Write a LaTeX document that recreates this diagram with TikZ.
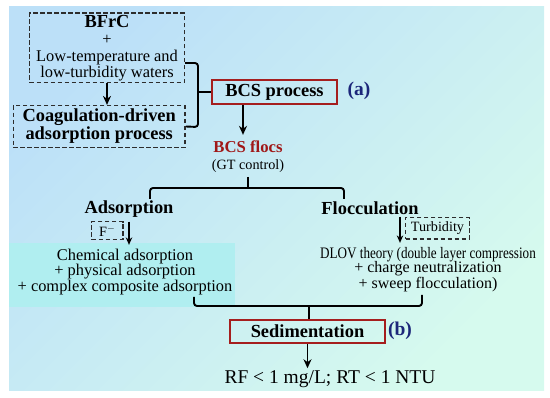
\documentclass[tikz,border=0pt]{standalone}
\usepackage{fontspec}
\setmainfont{Liberation Serif}
\usetikzlibrary{arrows.meta}
\definecolor{boxred}{RGB}{165,30,30}
\definecolor{flocred}{RGB}{160,24,24}
\definecolor{labblue}{RGB}{28,38,122}
\definecolor{bgtl}{RGB}{188,224,248}
\definecolor{bgbr}{RGB}{214,250,238}
\definecolor{adsbg}{RGB}{176,238,240}
\definecolor{dashgray}{RGB}{45,45,45}

\begin{document}
\begin{tikzpicture}[x=1pt,y=-1pt,
  dbox/.style={draw=dashgray,line width=1.5pt,dash pattern=on 4.5pt off 2.5pt,inner sep=0pt},
  redbox/.style={draw=boxred,line width=2.2pt,inner sep=0pt},
  txt/.style={font=\fontsize{16.4}{17}\selectfont,align=center,inner sep=0pt},
  bld/.style={font=\bfseries\fontsize{18.4}{18}\selectfont,align=center,inner sep=0pt},
  note/.style={font=\fontsize{14.2}{15}\selectfont,inner sep=0pt},
  lab/.style={font=\bfseries\fontsize{19.5}{20}\selectfont,text=labblue,inner sep=0pt},
  arr/.style={-{Stealth[length=9pt,width=8pt]},line width=1.9pt},
  sarr/.style={-{Stealth[length=7.5pt,width=6.5pt]},line width=1.5pt},
  brace/.style={line width=1.9pt,rounded corners=3pt}]

\useasboundingbox (0,0) rectangle (550,398);

%background
\shade[top color=bgtl,bottom color=bgbr,shading angle=45] (9,7) rectangle (544,391);
\fill[adsbg] (9,243) rectangle (235,307);

%inputs
\node[dbox,txt,minimum width=154.7,minimum height=69.5] (src) at (107,48)
  {{\bfseries\fontsize{18.4}{18}\selectfont BFrC}\\+\\Low-temperature and\\[-1pt]low-turbidity waters};
\node[dbox,bld,minimum width=171.7,minimum height=41.7] (cdap) at (99.2,126.5)
  {Coagulation-driven\\adsorption process};

%BCS process
\node[redbox,bld,minimum width=125,minimum height=24] (bcs) at (274.5,92) {BCS process};
\node[lab] (laba) at (359,91) {(a)};
\node[bld,font=\bfseries\fontsize{16.7}{17}\selectfont,text=flocred] (flocs) at (248,147) {BCS flocs};
\node[note] (gt) at (248,166) {(GT control)};

%two routes
\node[bld] (ads) at (129,209) {Adsorption};
\node[dbox,note,minimum width=31.3,minimum height=18] (fion) at (107.3,230.7) {F\textsuperscript{$-$}};
\node[txt,font=\fontsize{16.4}{15.5}\selectfont] (chem) at (125,272)
  {Chemical adsorption\\+ physical adsorption\\+ complex composite adsorption};
\node[bld] (floc) at (370,208) {Flocculation};
\node[dbox,note,minimum width=63.7,minimum height=21.3] (turb) at (437.5,228.3) {Turbidity};
\node[txt,font=\fontsize{16}{14.6}\selectfont] (dlvo) at (428,269.5)
  {\scalebox{0.82}[1]{DLOV theory (double layer compression}\\+ charge neutralization\\+ sweep flocculation)};

%sedimentation
\node[redbox,bld,minimum width=155,minimum height=23.3] (sed) at (307.5,331.3) {Sedimentation};
\node[lab] (labb) at (400,331) {(b)};
\node[txt,font=\fontsize{19.5}{20}\selectfont] (res) at (330,379) {RF < 1 mg/L; RT < 1 NTU};

%braces
\coordinate (k1) at (198,63);
\coordinate (k2) at (198,127);
\draw[brace] ([yshift=-15pt]src.east) -- (k1) -- (k2) -- (cdap.east);
\draw[brace] (bcs.west -| k1) -- (bcs.west);

\coordinate (m1) at (248,177);
\coordinate (m2) at (248,188);
\coordinate (l1) at (150,199);
\coordinate (r1) at (344,199);
\draw[brace] (m1) -- (m2);
\draw[brace] (l1) -- (l1 |- m2) -- (r1 |- m2) -- (r1);

\coordinate (n1) at (194,297);
\coordinate (n2) at (422,295);
\coordinate (n3) at (309,306);
\draw[brace] (n1) -- (n1 |- n3) -- (n2 |- n3) -- (n2);
\draw[brace] (n3) -- (n3 |- sed.north);

%arrows
\draw[arr] (src.south) -- (src.south |- cdap.north);
\draw[arr] ([xshift=-31.5pt]bcs.south) -- ([xshift=-5pt,yshift=6pt]flocs.north);
\draw[sarr] ([yshift=-4pt]ads.south) -- ([yshift=4pt]ads.south |- chem.north);
\draw[sarr] ([xshift=30pt,yshift=-2pt]floc.south) -- ([xshift=30pt,yshift=4pt]floc.south |- dlvo.north);
\draw[arr] (sed.south) -- ([yshift=2pt]sed.south |- res.north);

\end{tikzpicture}
\end{document}
